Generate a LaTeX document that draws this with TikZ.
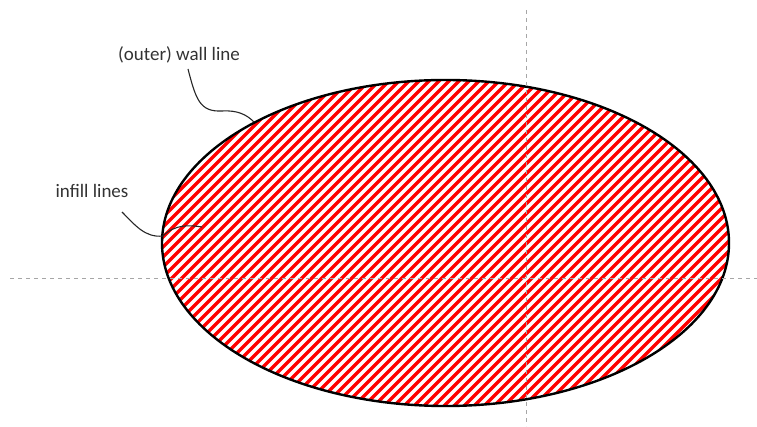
\documentclass[tikz,border=0pt]{standalone}
\usepackage{fontspec}
\setmainfont{Carlito}
\usetikzlibrary{shapes.geometric}
\begin{document}
\begin{tikzpicture}[x=1pt,y=-1pt,
  guide/.style={draw=gray!70, dashed, dash pattern=on 4pt off 4pt, line width=0.9pt},
  label/.style={text=black!80, font=\fontsize{19}{22}\selectfont, inner sep=0pt},
  leader/.style={draw=black!85, line width=1.1pt},
  hatchline/.style={draw=red, line width=3.5pt}]
\useasboundingbox (0,0) rectangle (757,427);
% hatched ellipse
\begin{scope}
  \clip (445.5,243) ellipse [x radius=283.5, y radius=163];
  \foreach \c in {240,250,...,1150} {
    \draw[hatchline] (\c,0) -- (\c-450,450);
  }
\end{scope}
\node[draw, line width=2.4pt, ellipse, minimum width=567pt, minimum height=326pt, inner sep=0pt] (wall) at (445.5,243) {};
% guides
\coordinate (vt) at (526,10);
\coordinate (vb) at (526,426);
\coordinate (hl) at (10,278);
\coordinate (hr) at (757,278);
\draw[guide] (vt) -- (vb);
\draw[guide] (hl) -- (hr);
% labels
\node[label] (outer) at (179,55) {(outer) wall line};
\node[label] (infill) at (92,191) {infill lines};
\coordinate (wallend) at (254,122);
\coordinate (infillend) at (202,227);
\draw[leader] (188,69) .. controls (196,100) and (200,112) .. (222,111) .. controls (238,110) and (247,115) .. (wallend);
\draw[leader] (122,212) .. controls (135,225) and (145,238) .. (163,236) .. controls (175,224) and (190,225) .. (infillend);
\end{tikzpicture}
\end{document}
